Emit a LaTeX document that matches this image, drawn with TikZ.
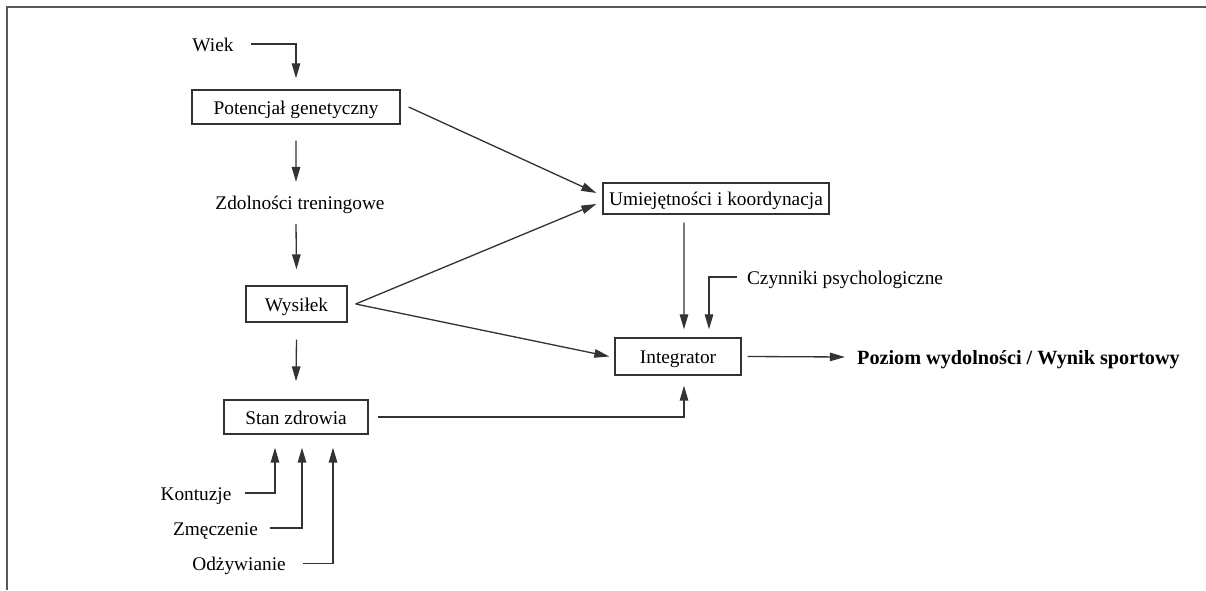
\documentclass[tikz,border=0pt]{standalone}
\usepackage{fontspec}
\setmainfont{Liberation Serif}
\usetikzlibrary{arrows.meta}

\begin{document}
\begin{tikzpicture}[
  font=\fontsize{11}{13}\selectfont,
  every node/.style={inner sep=0pt, text height=0.9em, text depth=0.1em},
  box/.style={draw=black!80, line width=0.75pt, minimum height=0.68cm},
  arr/.style={draw=black!80, line width=0.75pt, -{Triangle[length=3mm,width=1.7mm]}}
]
  \useasboundingbox (0,0) rectangle (24.12,11.8);
  \draw[gray!70!black, line width=1.1pt] (0.14,0) -- (0.14,11.66) -- (24.12,11.66);
  \node at (4.26,10.92) (wiek) {Wiek};
  \node[box, minimum width=4.16cm] at (5.92,9.66) (pot) {Potencjał genetyczny};
  \node at (6.0,7.76) (zdol) {Zdolności treningowe};
  \node[box, minimum width=2.02cm, minimum height=0.72cm] at (5.93,5.72) (wys) {Wysiłek};
  \node[box, minimum width=2.88cm] at (5.92,3.46) (stan) {Stan zdrowia};
  \node at (3.92,1.94) (kont) {Kontuzje};
  \node at (4.31,1.24) (zmecz) {Zmęczenie};
  \node at (4.78,0.53) (odz) {Odżywianie};
  \node[box, minimum width=4.52cm, minimum height=0.62cm] at (14.32,7.83) (umi) {Umiejętności i koordynacja};
  \node[box, minimum width=2.52cm, minimum height=0.74cm] at (13.56,4.67) (integ) {Integrator};
  \node at (16.9,6.26) (czyn) {Czynniki psychologiczne};
  \node[font=\fontsize{11.5}{13}\selectfont\bfseries] at (20.37,4.66) (wyn) {Poziom wydolności / Wynik sportowy};
  % left column
  \draw[arr] ([xshift=0.34cm]wiek.east) -| ([yshift=0.22cm]pot.north);
  \draw[arr] ([yshift=-0.32cm]pot.south) -- ([xshift=-0.08cm,yshift=0.22cm]zdol.north);
  \draw[arr] ([xshift=-0.08cm,yshift=-0.26cm]zdol.south) -- ([yshift=0.32cm]wys.north);
  \draw[arr] ([yshift=-0.34cm]wys.south) -- ([yshift=0.36cm]stan.north);
  \draw[arr] ([xshift=0.26cm]kont.east) -| ([xshift=-0.42cm,yshift=-0.26cm]stan.south);
  \draw[arr] ([xshift=0.24cm]zmecz.east) -| ([xshift=0.12cm,yshift=-0.26cm]stan.south);
  \draw[arr] ([xshift=0.34cm]odz.east) -| ([xshift=0.74cm,yshift=-0.26cm]stan.south);
  % into the right part
  \draw[arr] ([xshift=0.16cm]pot.east) -- ([xshift=-0.12cm,yshift=0.11cm]umi.west);
  \draw[arr] ([xshift=0.16cm]wys.east) -- ([xshift=-0.12cm,yshift=-0.11cm]umi.west);
  \draw[arr] ([xshift=0.16cm]wys.east) -- ([xshift=-0.1cm]integ.west);
  \draw[arr] ([xshift=-0.64cm,yshift=-0.16cm]umi.south) -- ([xshift=0.12cm,yshift=0.16cm]integ.north);
  \draw[arr] ([xshift=-0.2cm]czyn.west) -| ([xshift=0.62cm,yshift=0.16cm]integ.north);
  \draw[arr] ([xshift=0.18cm]stan.east) -| ([xshift=0.12cm,yshift=-0.2cm]integ.south);
  \draw[arr] ([xshift=0.12cm]integ.east) -- ([xshift=-0.24cm]wyn.west);
\end{tikzpicture}
\end{document}
